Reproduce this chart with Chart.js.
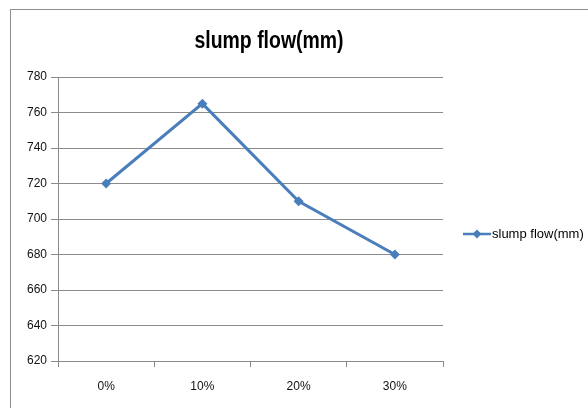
<!DOCTYPE html>
<html>
<head>
<meta charset="utf-8">
<script src="https://cdn.jsdelivr.net/npm/chart.js@4/dist/chart.umd.min.js"></script>
<style>
    html, body { margin: 0; padding: 0; background: #fff; }
    #wrap { position: relative; width: 588px; height: 408px; overflow: hidden; }
    #frame {
        position: absolute; left: 10px; top: 9px;
        width: 640px; height: 460px;
        border: 1px solid #8e8e8e;
    }
    canvas { position: absolute; left: 0; top: 0; }
</style>
</head>
<body>
<div id="wrap">
    <div id="frame"></div>
    <canvas id="chart" width="588" height="408"></canvas>
</div>
<script>
// =============================================================
// DATA
// =============================================================
const chartTitle  = "slump flow(mm)";
const seriesName  = "slump flow(mm)";
const categories  = ["0%", "10%", "20%", "30%"];
const slumpValues = [720, 765, 710, 680];
const yMin = 620, yMax = 780, yStep = 20;

const blue = "#4A7EBB";
const grid = "#8a8a8a";

// squeeze text to a given width (Calibri-ish look)
function narrowText(ctx, text, x, y, width) {
    const w = ctx.measureText(text).width;
    const k = Math.min(1, width / w);
    ctx.save();
    ctx.translate(x, y);
    ctx.scale(k, 1);
    ctx.fillText(text, 0, 0);
    ctx.restore();
}

// =============================================================
// TITLE + LEGEND (drawn like Excel does)
// =============================================================
const excelDecor = {
    id: "excelDecor",
    afterDraw(chart) {
        const ctx = chart.ctx;
        ctx.save();

        // title
        ctx.fillStyle = "#000";
        ctx.font = "bold 23px 'Liberation Sans', sans-serif";
        ctx.textAlign = "center";
        ctx.textBaseline = "alphabetic";
        narrowText(ctx, chartTitle, 269, 48, 149);

        // legend
        const ly = 234;
        ctx.strokeStyle = blue;
        ctx.lineWidth = 2.5;
        ctx.beginPath();
        ctx.moveTo(463, ly);
        ctx.lineTo(491, ly);
        ctx.stroke();
        ctx.fillStyle = blue;
        ctx.beginPath();
        ctx.moveTo(477, ly - 4.5);
        ctx.lineTo(481.5, ly);
        ctx.lineTo(477, ly + 4.5);
        ctx.lineTo(472.5, ly);
        ctx.closePath();
        ctx.fill();

        ctx.fillStyle = "#000";
        ctx.font = "13px 'Liberation Sans', sans-serif";
        ctx.textAlign = "left";
        ctx.textBaseline = "middle";
        narrowText(ctx, seriesName, 492, ly, 93);

        ctx.restore();
    }
};

// =============================================================
// CHART
// =============================================================
new Chart(document.getElementById("chart"), {
    type: "line",
    data: {
        labels: categories,
        datasets: [{
            label: seriesName,
            data: slumpValues,
            borderColor: blue,
            backgroundColor: blue,
            borderWidth: 3,
            tension: 0,
            pointStyle: "rectRot",
            pointRadius: 5,
            pointBackgroundColor: blue,
            pointBorderColor: blue,
            pointBorderWidth: 0
        }]
    },
    options: {
        responsive: false,
        animation: false,
        devicePixelRatio: 1,
        layout: { padding: { left: 10, right: 145, top: 77, bottom: 0 } },
        plugins: {
            legend: { display: false },
            title: { display: false },
            tooltip: { enabled: false }
        },
        scales: {
            x: {
                offset: true,
                grid: {
                    offset: true,
                    drawOnChartArea: false,
                    color: grid,
                    tickLength: 6
                },
                border: { color: grid },
                ticks: {
                    color: "#111",
                    padding: 12,
                    font: { family: "'Liberation Sans'", size: 12 }
                },
                afterFit(scale) { scale.height = 47; }
            },
            y: {
                min: yMin,
                max: yMax,
                grid: { color: grid, tickLength: 7 },
                border: { color: grid },
                ticks: {
                    stepSize: yStep,
                    color: "#111",
                    padding: 4,
                    font: { family: "'Liberation Sans'", size: 12 }
                },
                afterFit(scale) { scale.width = 48; }
            }
        }
    },
    plugins: [excelDecor]
});
</script>
</body>
</html>
